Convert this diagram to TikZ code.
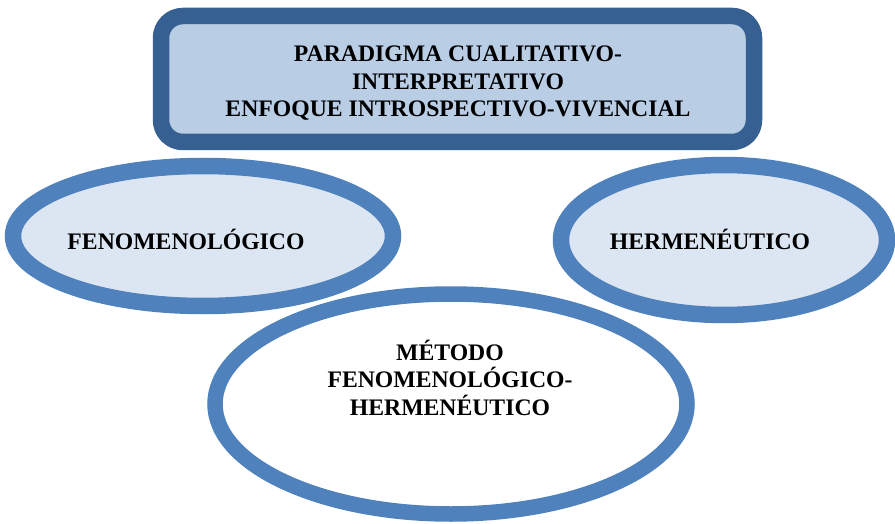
\documentclass[tikz,border=0pt]{standalone}
\usepackage{fontspec}
\setmainfont{Liberation Serif}
\usetikzlibrary{shapes.geometric,positioning}
\definecolor{marco}{HTML}{376092}
\definecolor{relleno}{HTML}{B9CDE5}
\definecolor{borde}{HTML}{4F81BD}
\definecolor{claro}{HTML}{DCE6F2}

\begin{document}
\begin{tikzpicture}[x=1pt,y=-1pt]
	\tikzset{rblock/.style={draw=marco, fill=relleno, shape=rectangle, rounded corners=22pt, line width=16.5pt, minimum width=593pt, minimum height=126pt},
		eblock/.style={draw=borde, fill=claro, shape=ellipse, line width=16.5pt, inner sep=0pt},
		txt/.style={align=center, font=\fontsize{23.7}{27.5}\selectfont\bfseries, inner sep=0pt, anchor=base},
	}
	\useasboundingbox (0,0) rectangle (895,524);
	\node [rblock] (para) at (457.5,79) {};
	\node [txt] (paraT) at (458,116.7) {PARADIGMA CUALITATIVO-\\INTERPRETATIVO\\ENFOQUE INTROSPECTIVO-VIVENCIAL};
	\node [eblock, minimum width=380pt, minimum height=140pt] (feno) at (203,236) {};
	\node [txt] (fenoT) at (186,250) {FENOMENOLÓGICO};
	\node [eblock, minimum width=326pt, minimum height=150pt] (herm) at (724,240) {};
	\node [txt] (hermT) at (710,250) {HERMENÉUTICO};
	% elipse central, por encima de las otras
	\node [eblock, fill=white, line width=15.5pt, minimum width=472pt, minimum height=220pt] (meto) at (451,404) {};
	\node [txt] (metoT) at (450,415) {MÉTODO\\FENOMENOLÓGICO-\\HERMENÉUTICO};
\end{tikzpicture}
\end{document}
